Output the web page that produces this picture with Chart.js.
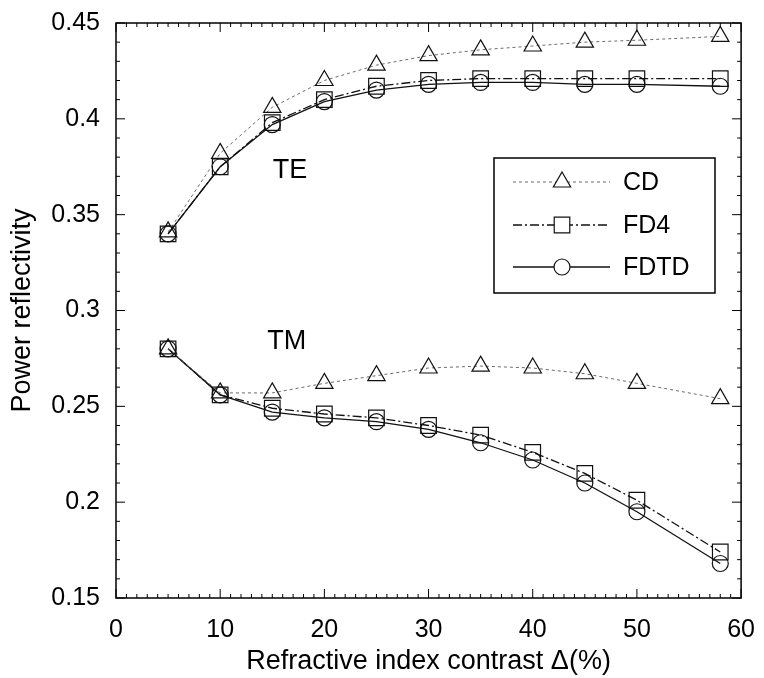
<!DOCTYPE html>
<html>
<head>
<meta charset="utf-8">
<script src="https://cdn.jsdelivr.net/npm/chart.js@4/dist/chart.umd.min.js"></script>
<style>
  html, body { margin: 0; padding: 0; background: #fff; }
  #wrap { width: 764px; height: 678px; }
</style>
</head>
<body>
<div id="wrap"><canvas id="myChart" width="764" height="678"></canvas></div>
<script>
// contrast values (%)
var contrast = [5, 10, 15, 20, 25, 30, 35, 40, 45, 50, 58];

// TE polarisation
var teCD   = [0.341, 0.382, 0.406, 0.420, 0.428, 0.433, 0.436, 0.438, 0.440, 0.441, 0.443];
var teFD4  = [0.340, 0.375, 0.398, 0.410, 0.417, 0.420, 0.421, 0.421, 0.421, 0.421, 0.421];
var teFDTD = [0.340, 0.375, 0.397, 0.409, 0.415, 0.418, 0.419, 0.419, 0.418, 0.418, 0.417];

// TM polarisation
var tmCD   = [0.280, 0.257, 0.257, 0.262, 0.266, 0.270, 0.271, 0.270, 0.267, 0.262, 0.254];
var tmFD4  = [0.280, 0.256, 0.249, 0.246, 0.244, 0.240, 0.235, 0.226, 0.215, 0.201, 0.174];
var tmFDTD = [0.280, 0.256, 0.247, 0.244, 0.242, 0.238, 0.231, 0.222, 0.210, 0.195, 0.168];

var xTicks = [0, 10, 20, 30, 40, 50, 60];
var yTicks = [0.15, 0.2, 0.25, 0.3, 0.35, 0.4, 0.45];
var methods = ["CD", "FD4", "FDTD"];

var FONT = '"Liberation Sans", Arial, sans-serif';

function pts(ys) {
  return contrast.map(function (x, i) { return { x: x, y: ys[i] }; });
}

var styles = {
  CD:   { color: '#6a6a6a', dash: [3, 3], width: 1, point: 'triangle', r: 10 },
  FD4:  { color: '#111', dash: [9, 3, 2, 3], width: 1.3, point: 'rect', r: 11 },
  FDTD: { color: '#111', dash: [], width: 1.3, point: 'circle', r: 8 }
};

function ds(name, ys) {
  var s = styles[name];
  return {
    label: name,
    data: pts(ys),
    borderColor: s.color,
    borderWidth: s.width,
    borderDash: s.dash,
    pointStyle: s.point,
    pointRadius: s.r,
    pointBorderColor: '#111',
    pointBorderWidth: 1.2,
    pointBackgroundColor: 'rgba(0,0,0,0)',
    fill: false,
    tension: 0
  };
}

// frame with inward major/minor ticks, TE/TM labels and the inside legend
var framePlugin = {
  id: 'frame',
  afterDraw: function (chart) {
    var c = chart.ctx, a = chart.chartArea;
    var xs = chart.scales.x, ys = chart.scales.y;
    c.save();
    c.strokeStyle = '#000';
    c.lineWidth = 1.5;
    c.setLineDash([]);
    c.strokeRect(a.left, a.top, a.right - a.left, a.bottom - a.top);
    c.lineWidth = 1;
    c.beginPath();
    for (var v = 0; v <= 60; v++) {
      var px = xs.getPixelForValue(v);
      var len = v % 10 === 0 ? 9 : 4;
      c.moveTo(px, a.bottom); c.lineTo(px, a.bottom - len);
      c.moveTo(px, a.top); c.lineTo(px, a.top + len);
    }
    for (var k = 15; k <= 45; k++) {
      var py = ys.getPixelForValue(k / 100);
      var ln = k % 5 === 0 ? 9 : 4;
      c.moveTo(a.left, py); c.lineTo(a.left + ln, py);
      c.moveTo(a.right, py); c.lineTo(a.right - ln, py);
    }
    c.stroke();

    c.fillStyle = '#000';
    c.font = '27px ' + FONT;
    c.textAlign = 'center';
    c.textBaseline = 'middle';
    c.fillText('TE', xs.getPixelForValue(16.7), ys.getPixelForValue(0.373));
    c.fillText('TM', xs.getPixelForValue(16.4), ys.getPixelForValue(0.284));

    // legend box
    var bx = 494, by = 158, bw = 221, bh = 135;
    c.lineWidth = 1.5;
    c.strokeRect(bx, by, bw, bh);
    var rowsY = [182, 225, 267];
    methods.forEach(function (m, i) {
      var s = styles[m], y = rowsY[i];
      c.strokeStyle = s.color;
      c.lineWidth = s.width;
      c.setLineDash(s.dash);
      c.beginPath(); c.moveTo(513, y); c.lineTo(610, y); c.stroke();
      c.setLineDash([]);
      c.strokeStyle = '#111';
      c.fillStyle = '#fff';
      c.lineWidth = 1.2;
      Chart.helpers.drawPoint(c, { pointStyle: s.point, radius: s.r, borderWidth: 1.2 }, 562, y);
      c.fillStyle = '#000';
      c.textAlign = 'left';
      c.font = '25px ' + FONT;
      c.fillText(m, 623, y + 1);
    });
    c.restore();
  }
};

var ctx = document.getElementById("myChart").getContext('2d');
var myChart = new Chart(ctx, {
  type: 'line',
  data: {
    datasets: [
      ds("CD", teCD), ds("FD4", teFD4), ds("FDTD", teFDTD),
      ds("CD", tmCD), ds("FD4", tmFD4), ds("FDTD", tmFDTD)
    ]
  },
  plugins: [framePlugin],
  options: {
    responsive: false,
    animation: false,
    layout: { padding: { left: 6, right: 17, top: 19, bottom: 0 } },
    plugins: {
      legend: { display: false },
      tooltip: { enabled: false }
    },
    scales: {
      x: {
        type: 'linear',
        min: 0, max: 60,
        afterBuildTicks: function (s) { s.ticks = xTicks.map(function (v) { return { value: v }; }); },
        grid: { display: false },
        border: { display: false },
        ticks: {
          color: '#000',
          padding: 9,
          maxRotation: 0,
          font: { family: FONT, size: 25 }
        },
        title: {
          display: true,
          text: 'Refractive index contrast \u0394(%)',
          color: '#000',
          padding: { top: 2, bottom: 0 },
          font: { family: FONT, size: 27 }
        },
        afterFit: function (s) { s.height = 80; }
      },
      y: {
        min: 0.15, max: 0.45,
        afterBuildTicks: function (s) { s.ticks = yTicks.map(function (v) { return { value: v }; }); },
        grid: { display: false },
        border: { display: false },
        ticks: {
          color: '#000',
          padding: 8,
          font: { family: FONT, size: 25 },
          callback: function (v) { return String(+Number(v).toFixed(2)); }
        },
        title: {
          display: true,
          text: 'Power reflectivity',
          color: '#000',
          padding: { top: 0, bottom: 4 },
          font: { family: FONT, size: 27 }
        },
        afterFit: function (s) { s.width = 110; }
      }
    }
  }
});
</script>
</body>
</html>
